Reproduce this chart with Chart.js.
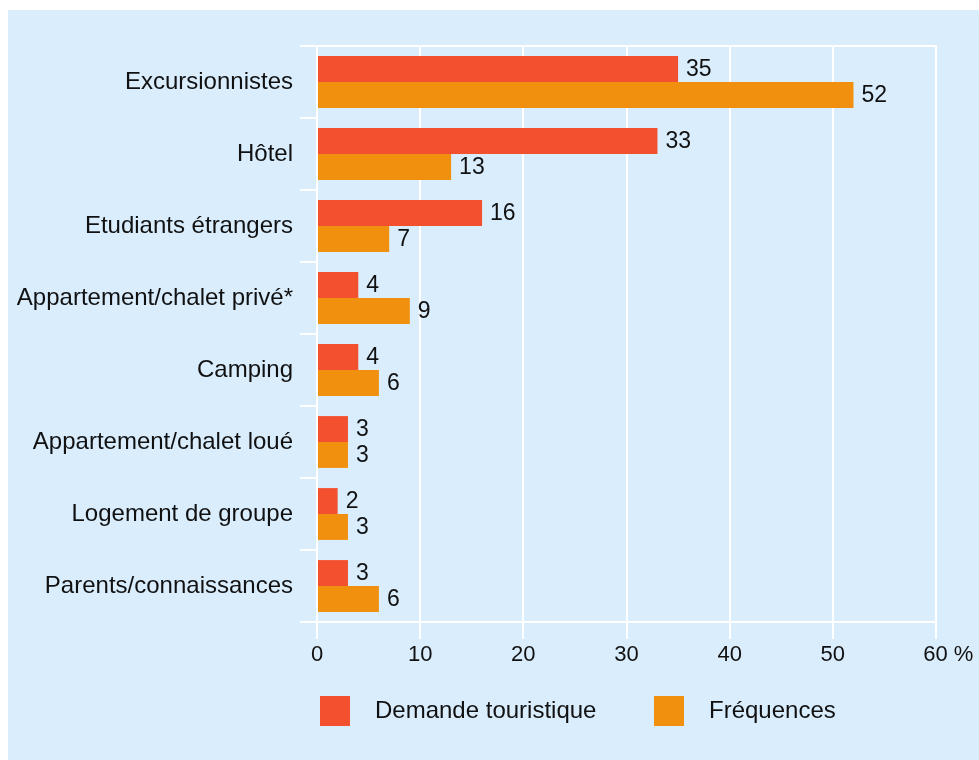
<!DOCTYPE html>
<html>
<head>
<meta charset="utf-8">
<script src="https://cdn.jsdelivr.net/npm/chart.js@4"></script>
<style>
  html, body { margin: 0; padding: 0; background: #ffffff; }
  #panel { position: absolute; left: 8px; top: 10px; width: 971px; height: 750px; background: #d9edfd; }
  canvas { display: block; }
</style>
</head>
<body>
<div id="panel"><canvas id="chart" width="971" height="750"></canvas></div>
<script>
// Catégories et valeurs (%)
const categories = ['Excursionnistes', 'Hôtel', 'Etudiants étrangers', 'Appartement/chalet privé*',
    'Camping', 'Appartement/chalet loué', 'Logement de groupe', 'Parents/connaissances'];
const demande = [35, 33, 16, 4, 4, 3, 2, 3];
const frequences = [52, 13, 7, 9, 6, 3, 3, 6];
const seriesNames = ['Demande touristique', 'Fréquences'];
const xTicks = [0, 10, 20, 30, 40, 50, 60];

const FONT = '"Liberation Sans", Arial, sans-serif';
const RED = '#f2502e';
const ORANGE = '#f0900e';

// Étiquettes de valeurs à droite des barres
const valueLabels = {
    id: 'valueLabels',
    afterDatasetsDraw(chart) {
        const ctx = chart.ctx;
        ctx.save();
        ctx.font = '23px ' + FONT;
        ctx.fillStyle = '#111';
        ctx.textAlign = 'left';
        ctx.textBaseline = 'middle';
        chart.data.datasets.forEach((ds, i) => {
            chart.getDatasetMeta(i).data.forEach((bar, j) => {
                ctx.fillText(String(ds.data[j]), bar.x + 8, bar.y + 1);
            });
        });
        ctx.restore();
    }
};

// Ligne du haut + légende
const frame = {
    id: 'frame',
    beforeDatasetsDraw(chart) {
        const a = chart.chartArea;
        const ctx = chart.ctx;
        ctx.save();
        ctx.strokeStyle = '#ffffff';
        ctx.lineWidth = 2;
        ctx.beginPath();
        ctx.moveTo(a.left, a.top);
        ctx.lineTo(a.right + 1, a.top);
        ctx.stroke();
        ctx.restore();
    },
    afterDraw(chart) {
        const a = chart.chartArea;
        const ctx = chart.ctx;
        const y = a.bottom + 74;
        const xs = [a.left + 3, a.left + 337];
        ctx.save();
        ctx.font = '24px ' + FONT;
        ctx.textAlign = 'left';
        ctx.textBaseline = 'middle';
        chart.data.datasets.forEach((ds, i) => {
            ctx.fillStyle = ds.backgroundColor;
            ctx.fillRect(xs[i], y, 30, 30);
            ctx.fillStyle = '#111';
            ctx.fillText(ds.label, xs[i] + 55, y + 15);
        });
        ctx.restore();
    }
};

const ctx = document.getElementById('chart').getContext('2d');
const chart = new Chart(ctx, {
    type: 'bar',
    data: {
        labels: categories,
        datasets: [{
            label: seriesNames[0],
            data: demande,
            backgroundColor: RED,
            borderWidth: 0,
            categoryPercentage: 0.72,
            barPercentage: 1.0
        }, {
            label: seriesNames[1],
            data: frequences,
            backgroundColor: ORANGE,
            borderWidth: 0,
            categoryPercentage: 0.72,
            barPercentage: 1.0
        }]
    },
    options: {
        indexAxis: 'y',
        responsive: false,
        animation: false,
        layout: { padding: { top: 36, left: 0, right: 43, bottom: 78 } },
        plugins: {
            legend: { display: false },
            tooltip: { enabled: false }
        },
        scales: {
            x: {
                min: 0,
                max: 60,
                afterBuildTicks: function(scale) {
                    scale.ticks = xTicks.map(v => ({ value: v }));
                },
                afterFit: function(scale) { scale.height = 60; },
                grid: { color: '#ffffff', lineWidth: 2, tickLength: 17 },
                border: { display: true, color: '#ffffff', width: 2 },
                ticks: {
                    color: '#111',
                    padding: 3,
                    font: { family: FONT, size: 22 },
                    maxRotation: 0,
                    callback: function(value) {
                        return value === 60 ? '    60 %' : String(value);
                    }
                }
            },
            y: {
                afterFit: function(scale) { scale.width = 309; },
                grid: {
                    offset: true,
                    drawOnChartArea: false,
                    color: '#ffffff',
                    lineWidth: 2,
                    tickLength: 17
                },
                border: { display: false },
                ticks: {
                    color: '#111',
                    padding: 7,
                    font: { family: FONT, size: 24 }
                }
            }
        }
    },
    plugins: [valueLabels, frame]
});
</script>
</body>
</html>
